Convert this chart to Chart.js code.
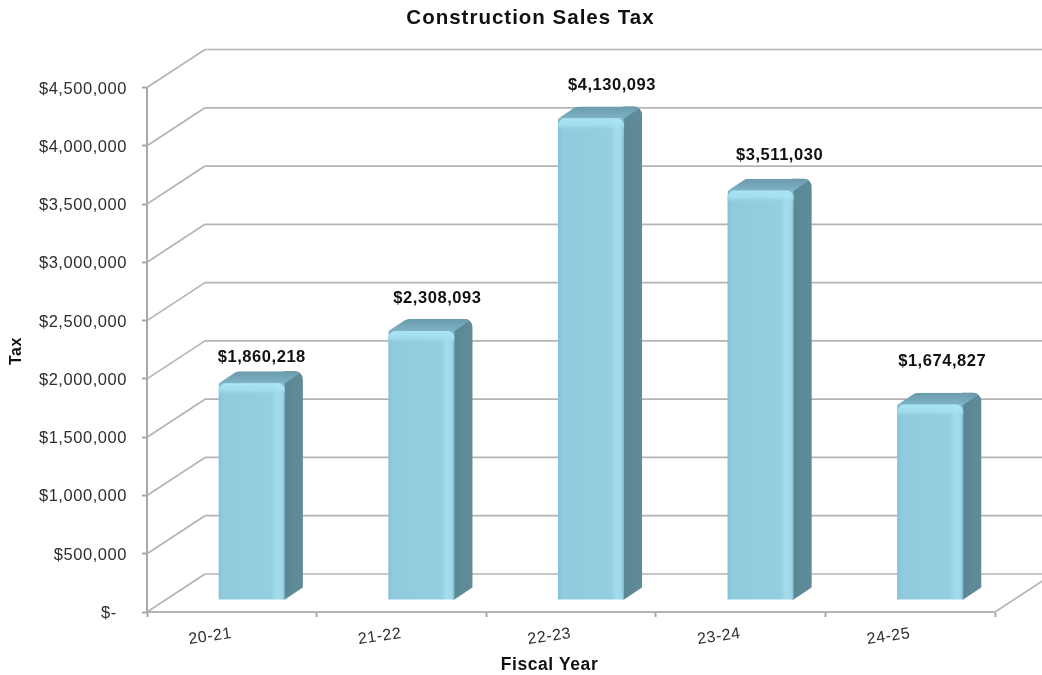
<!DOCTYPE html>
<html>
<head>
<meta charset="utf-8">
<title>Construction Sales Tax</title>
<script src="https://cdn.jsdelivr.net/npm/chart.js@4"></script>
<style>
  body { margin: 0; background: #fff; }
  canvas { display: block; }
</style>
</head>
<body>
<canvas id="taxChart" width="1042" height="675"></canvas>
<script>
const fiscalYears = ["20-21", "21-22", "22-23", "23-24", "24-25"];
const taxValues = [1860218, 2308093, 4130093, 3511030, 1674827];

// hand placement of the value labels, relative to the front top of each bar
const labelShiftX = [30, 36, 41, 39, 32];
const labelLift = [27, 34, 34, 36, 44];

const FONT = '"Liberation Sans", Arial, sans-serif';
const WALL_DX = 58;
const WALL_DY = -38;
const BAR_SHIFT_X = 20;
const BAR_SHIFT_Y = -12;
const DEPTH_X = 18;
const DEPTH_Y = -12;

const money = (v) => "$" + v.toLocaleString("en-US");

function line(ctx, x1, y1, x2, y2) {
  ctx.beginPath();
  ctx.moveTo(x1, y1);
  ctx.lineTo(x2, y2);
  ctx.stroke();
}

// closed path with its own corner radius at every vertex
function tracePoly(ctx, pts, radii) {
  const n = pts.length;
  ctx.beginPath();
  ctx.moveTo((pts[n - 1][0] + pts[0][0]) / 2, (pts[n - 1][1] + pts[0][1]) / 2);
  pts.forEach((p, i) => {
    const next = pts[(i + 1) % n];
    ctx.arcTo(p[0], p[1], next[0], next[1], radii[i]);
  });
  ctx.closePath();
}

const perspective = {
  id: "perspective",
  beforeDraw(chart) {
    chart.ctx.letterSpacing = "0.55px";
  },
  beforeDatasetsDraw(chart) {
    const { ctx, scales } = chart;
    const { x: xs, y: ys } = scales;
    const wallRight = chart.width;

    // side wall and back wall gridlines
    ctx.save();
    ctx.strokeStyle = "#b4b4b4";
    ctx.lineWidth = 1.7;
    ys.ticks.forEach((t) => {
      const y = ys.getPixelForValue(t.value);
      line(ctx, xs.left, y, xs.left + WALL_DX, y + WALL_DY);
      line(ctx, xs.left + WALL_DX, y + WALL_DY, wallRight, y + WALL_DY);
    });
    line(ctx, xs.right, ys.bottom, xs.right + WALL_DX, ys.bottom + WALL_DY);
    ctx.restore();

    // bars sit part way back on the floor
    ctx.save();
    ctx.translate(BAR_SHIFT_X, BAR_SHIFT_Y);
    chart.getDatasetMeta(0).data.forEach((bar) => {
      const l = bar.x - bar.width / 2;
      const r = bar.x + bar.width / 2;
      const t = bar.y;
      const b = bar.base;

      // whole outline first, so the back corners round off both faces together
      ctx.save();
      tracePoly(
        ctx,
        [[l, t], [l + DEPTH_X, t + DEPTH_Y], [r + DEPTH_X, t + DEPTH_Y], [r + DEPTH_X, b + DEPTH_Y], [r, b], [l, b]],
        [3, 10, 8, 1, 0, 0]
      );
      ctx.clip();

      const sideFill = ctx.createLinearGradient(r, 0, r + DEPTH_X, 0);
      sideFill.addColorStop(0, "#5b8795");
      sideFill.addColorStop(1, "#618b98");
      ctx.fillStyle = sideFill;
      ctx.fillRect(r - 1, t + DEPTH_Y - 1, DEPTH_X + 2, b - t - DEPTH_Y + 2);

      const topFill = ctx.createLinearGradient(0, t + DEPTH_Y, 0, t);
      topFill.addColorStop(0, "#6b9bad");
      topFill.addColorStop(1, "#7db2c4");
      ctx.fillStyle = topFill;
      ctx.beginPath();
      ctx.moveTo(l, t);
      ctx.lineTo(l + DEPTH_X, t + DEPTH_Y);
      ctx.lineTo(r + DEPTH_X, t + DEPTH_Y);
      ctx.lineTo(r, t);
      ctx.closePath();
      ctx.fill();
      ctx.fillRect(l, t, r - l, 8);
      ctx.restore();
    });
    ctx.restore();

    // the library draws the front faces inside this shift
    ctx.save();
    ctx.translate(BAR_SHIFT_X, BAR_SHIFT_Y);
  },
  afterDatasetsDraw(chart) {
    const { ctx } = chart;
    const bars = chart.getDatasetMeta(0).data;

    // light bevel along the top of each front face
    bars.forEach((bar) => {
      const l = bar.x - bar.width / 2;
      const glow = ctx.createLinearGradient(0, bar.y, 0, bar.y + 12);
      glow.addColorStop(0, "rgba(170,232,246,0.95)");
      glow.addColorStop(0.6, "rgba(165,226,242,0.7)");
      glow.addColorStop(1, "rgba(150,210,228,0)");
      ctx.fillStyle = glow;
      ctx.beginPath();
      ctx.roundRect(l, bar.y, bar.width, 12, [7, 7, 0, 0]);
      ctx.fill();
    });
    ctx.restore();

    // value labels above the bars
    ctx.save();
    ctx.font = "bold 16.5px " + FONT;
    ctx.fillStyle = "#111";
    ctx.textAlign = "center";
    ctx.textBaseline = "middle";
    bars.forEach((bar, i) => {
      const front = bar.y + BAR_SHIFT_Y;
      ctx.fillText(money(taxValues[i]), bar.x + labelShiftX[i], front - labelLift[i] + 1);
    });

    // chart and axis titles
    ctx.font = "bold 17.5px " + FONT;
    ctx.fillText("Fiscal Year", 549.5, 665);
    ctx.save();
    ctx.translate(17, 351);
    ctx.rotate(-Math.PI / 2);
    ctx.font = "bold 16px " + FONT;
    ctx.fillText("Tax", 0, 0);
    ctx.restore();
    ctx.letterSpacing = "1px";
    ctx.font = "bold 20.5px " + FONT;
    ctx.fillText("Construction Sales Tax", 530.5, 18);
    ctx.restore();
  },
};

function frontFill(context) {
  const { chart, dataIndex } = context;
  const xs = chart.scales.x;
  if (!xs || !xs.width || dataIndex === undefined) return "#92cde0";
  const cx = xs.getPixelForValue(dataIndex);
  const half = (xs.width / fiscalYears.length) * 0.39 / 2;
  const g = chart.ctx.createLinearGradient(cx - half, 0, cx + half, 0);
  g.addColorStop(0, "#82c2d6");
  g.addColorStop(0.06, "#8fcadd");
  g.addColorStop(0.8, "#93cfe1");
  g.addColorStop(0.88, "#a4dcec");
  g.addColorStop(0.96, "#9ed7e8");
  g.addColorStop(1, "#7db8ca");
  return g;
}

new Chart(document.getElementById("taxChart"), {
  type: "bar",
  data: {
    labels: fiscalYears,
    datasets: [
      {
        label: "Tax",
        data: taxValues,
        backgroundColor: frontFill,
        borderRadius: { topLeft: 7, topRight: 7, bottomLeft: 0, bottomRight: 0 },
        borderSkipped: false,
        barPercentage: 0.39,
        categoryPercentage: 1,
      },
    ],
  },
  options: {
    responsive: false,
    animation: false,
    layout: { padding: { top: 87.5, right: 47 } },
    plugins: {
      legend: { display: false },
      tooltip: { enabled: false },
    },
    scales: {
      x: {
        afterFit: (scale) => {
          scale.height = 63;
        },
        border: { color: "#b4b4b4", width: 2 },
        grid: {
          drawOnChartArea: false,
          tickLength: 5,
          tickColor: "#a8a8a8",
          tickWidth: 2,
        },
        ticks: {
          minRotation: 8,
          maxRotation: 8,
          padding: 7,
          color: "#2e2e2e",
          font: { family: FONT, size: 16 },
        },
      },
      y: {
        min: 0,
        max: 4500000,
        afterFit: (scale) => {
          scale.width = 147;
        },
        border: { color: "#a8a8a8", width: 2 },
        grid: {
          drawOnChartArea: false,
          tickLength: 5,
          tickColor: "#a8a8a8",
          tickWidth: 2,
        },
        ticks: {
          stepSize: 500000,
          padding: 15,
          labelOffset: 1.5,
          color: "#2e2e2e",
          font: { family: FONT, size: 16.5 },
          callback: (v) => (v === 0 ? "$-  " : money(v)),
        },
      },
    },
  },
  plugins: [perspective],
});
</script>
</body>
</html>
